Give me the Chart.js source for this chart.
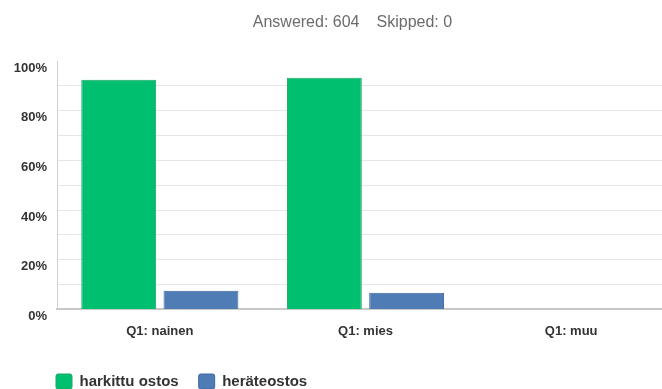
<!DOCTYPE html>
<html>
<head>
<meta charset="utf-8">
<script src="https://cdn.jsdelivr.net/npm/chart.js@4"></script>
<style>
    html, body { margin: 0; padding: 0; background: #fff; overflow: hidden; }
    #wrap { position: relative; width: 676px; height: 389px; }
</style>
</head>
<body>
<div id="wrap"><canvas id="charts"></canvas></div>
<script>
document.addEventListener("DOMContentLoaded", function() {
    const ctx = document.getElementById("charts").getContext("2d");

    const categories = ["Q1: nainen", "Q1: mies", "Q1: muu"];
    const harkittu = [92.5, 93.3, 0];
    const herate = [7.5, 6.7, 0];
    const answered = 604;
    const skipped = 0;

    // "Answered / Skipped" line over the plot
    const summary = {
        id: "summary",
        afterDraw(chart) {
            const c = chart.ctx;
            const mid = (chart.chartArea.left + chart.chartArea.right) / 2 - 8;
            c.save();
            c.font = "16px 'Liberation Sans', Arial, sans-serif";
            c.fillStyle = "#6b6b6b";
            c.textBaseline = "middle";
            c.textAlign = "right";
            c.fillText("Answered: " + answered, mid + 2, 23);
            c.textAlign = "left";
            c.fillText("Skipped: " + skipped, mid + 19, 23);
            c.restore();
        }
    };

    // legend sits under the y axis and close to the bottom edge
    const legendShift = {
        id: "legendShift",
        afterLayout(chart) {
            chart.legend.left = 36;
            chart.legend.top = 354;
        }
    };

    const chart = new Chart(ctx, {
        type: "bar",
        data: {
            labels: categories,
            datasets: [
                {
                    label: "harkittu ostos",
                    data: harkittu,
                    backgroundColor: "#00bf6f",
                    borderColor: "#1ea865",
                    borderWidth: 1
                },
                {
                    label: "heräteostos",
                    data: herate,
                    backgroundColor: "#507cb6",
                    borderColor: "#3f68a0",
                    borderWidth: 1
                }
            ]
        },
        options: {
            responsive: true,
            maintainAspectRatio: false,
            animation: false,
            layout: { padding: { top: 61, right: 2, left: 0, bottom: -1 } },
            datasets: {
                bar: { categoryPercentage: 0.8, barPercentage: 0.91 }
            },
            scales: {
                x: {
                    grid: { display: false },
                    border: { display: true, color: "#c8c8c8", width: 2 },
                    ticks: {
                        color: "#333",
                        padding: 6,
                        font: { family: "'Liberation Sans', Arial, sans-serif", size: 13, weight: "bold" }
                    }
                },
                y: {
                    min: 0,
                    max: 100,
                    grid: {
                        drawTicks: false,
                        lineWidth: 1,
                        color: (c) => (c.tick && (c.tick.value === 100 || c.tick.value === 0)) ? "rgba(0,0,0,0)" : "#e6e6e6"
                    },
                    border: { display: true, color: "#cfcfcf", width: 1 },
                    ticks: {
                        stepSize: 10,
                        padding: 10,
                        labelOffset: 7,
                        color: "#333",
                        font: { family: "'Liberation Sans', Arial, sans-serif", size: 13, weight: "bold" },
                        callback: (v) => (v % 20 === 0 ? v + "%" : "")
                    },
                    afterFit(scale) { scale.width = 57; }
                }
            },
            plugins: {
                legend: {
                    position: "bottom",
                    align: "start",
                    labels: {
                        boxWidth: 16,
                        boxHeight: 15,
                        padding: 20,
                        color: "#333",
                        useBorderRadius: true,
                        borderRadius: 2,
                        font: { family: "'Liberation Sans', Arial, sans-serif", size: 15, weight: "bold" }
                    }
                },
                tooltip: {
                    callbacks: {
                        label: function(item) {
                            return `${item.dataset.label}: ${item.raw}%`;
                        }
                    }
                }
            }
        },
        plugins: [summary, legendShift]
    });
});
</script>
</body>
</html>
